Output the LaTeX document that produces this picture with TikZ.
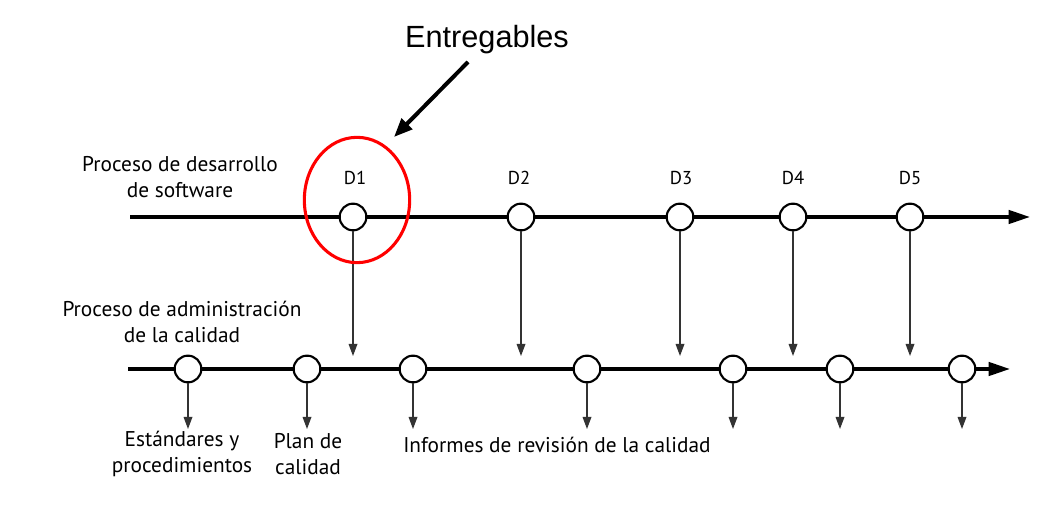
\documentclass[tikz,border=0pt]{standalone}
\usepackage{fontspec}
\setmainfont{PT Sans}
\newfontfamily\arialfont{Liberation Sans}
\usetikzlibrary{arrows.meta,shapes.geometric}
\begin{document}
\begin{tikzpicture}[x=0.75pt,y=-0.75pt,
  event/.style={circle,draw=black,line width=1.6pt,fill=white,minimum size=20pt,inner sep=0pt},
  mainline/.style={line width=2.6pt,-{Triangle[length=16pt,width=10pt]}},
  drop/.style={line width=0.9pt,draw=black!80,-{Triangle[length=9pt,width=6.5pt]}},
  lbl/.style={font=\fontsize{16}{19}\selectfont,align=center,inner sep=0pt},
  dlbl/.style={font=\fontsize{14}{16}\selectfont,inner sep=0pt}]
\useasboundingbox (0,0) rectangle (1043,530);
% top line
\coordinate (ts) at (130,217);
\coordinate (te) at (1030,217);
\draw[mainline] (ts) -- (te);
\node[event] (t1) at (353,217) {};
\node[event] (t2) at (521,217) {};
\node[event] (t3) at (680,217) {};
\node[event] (t4) at (793,217) {};
\node[event] (t5) at (910,217) {};
\node[dlbl] (l1) at (355,178) {D1};
\node[dlbl] (l2) at (519,178) {D2};
\node[dlbl] (l3) at (681,178) {D3};
\node[dlbl] (l4) at (793,178) {D4};
\node[dlbl] (l5) at (910,178) {D5};
\node[lbl] (dev) at (180,177) {Proceso de desarrollo\\de software};
% bottom line
\coordinate (bs) at (128,369);
\coordinate (be) at (1010,369);
\draw[mainline] (bs) -- (be);
\node[event] (b1) at (188,369) {};
\node[event] (b2) at (307,369) {};
\node[event] (b3) at (413,369) {};
\node[event] (b4) at (587,369) {};
\node[event] (b5) at (733,369) {};
\node[event] (b6) at (840,369) {};
\node[event] (b7) at (962,369) {};
\node[lbl] (qa) at (182,322) {Proceso de administración\\de la calidad};
% drops from deliverables
\coordinate (d1) at (353,356);
\coordinate (d2) at (521,356);
\coordinate (d3) at (680,356);
\coordinate (d4) at (793,356);
\coordinate (d5) at (910,356);
\foreach \i in {1,...,5} \draw[drop] (t\i.south) -- (d\i);
% outputs
\coordinate (o1) at (188,429);
\coordinate (o2) at (307,429);
\coordinate (o3) at (413,429);
\coordinate (o4) at (587,429);
\coordinate (o5) at (733,429);
\coordinate (o6) at (840,429);
\coordinate (o7) at (962,429);
\foreach \i in {1,...,7} \draw[drop] (b\i.south) -- (o\i);
\node[lbl] (std) at (182,454) {Estándares y\\procedimientos};
\node[lbl] (plan) at (308,454) {Plan de\\calidad};
\node[lbl,anchor=west] (inf) at (403,445) {Informes de revisión de la calidad};
% highlight
\node[draw=red,line width=2.3pt,ellipse,minimum width=79pt,minimum height=94pt,inner sep=0pt] (hl) at (357,200) {};
\node[font=\arialfont\fontsize{23}{26}\selectfont,inner sep=0pt] (ent) at (487,40) {Entregables};
\coordinate (ea) at (468,62);
\coordinate (eb) at (394,137);
\draw[line width=3pt,-{Triangle[length=14pt,width=11pt]}] (ea) -- (eb);
\end{tikzpicture}
\end{document}
